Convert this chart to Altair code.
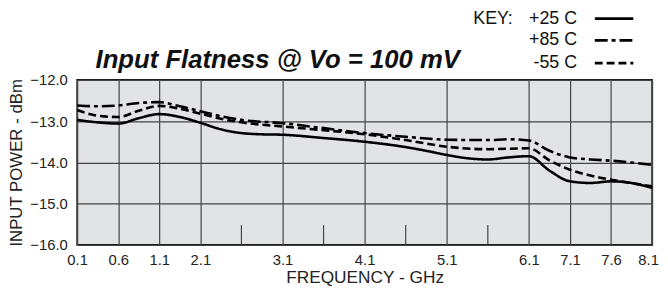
import altair as alt
import pandas as pd

# x positions are grid-column indices (0..14); tick labels map to frequency
tick_pos = [0, 1, 2, 3, 5, 7, 9, 11, 12, 13, 14]
tick_labels = ["0.1", "0.6", "1.1", "2.1", "3.1", "4.1", "5.1", "6.1", "7.1", "7.6", "8.1"]
minor_pos = [4, 6, 8, 10]

x_p25 = [0, 0.5, 1, 1.5, 2, 2.5, 3, 3.5, 4, 4.5, 5, 6, 7, 8, 8.5, 9, 9.5, 10, 10.5, 11, 11.5, 12, 12.5, 13, 13.5, 14]
y_p25 = [-12.97, -13.03, -13.06, -12.93, -12.83, -12.9, -13.04, -13.2, -13.29, -13.32, -13.33, -13.41, -13.5, -13.63, -13.72, -13.82, -13.9, -13.93, -13.88, -13.85, -14.2, -14.46, -14.5, -14.46, -14.5, -14.62]

x_p85 = [0, 0.5, 1, 1.5, 2, 2.5, 3, 3.5, 4, 5, 6, 7, 8, 9, 10, 10.5, 11, 11.5, 12, 12.5, 13, 14]
y_p85 = [-12.62, -12.64, -12.62, -12.56, -12.54, -12.64, -12.76, -12.88, -12.97, -13.05, -13.17, -13.29, -13.38, -13.45, -13.46, -13.44, -13.47, -13.72, -13.88, -13.93, -13.96, -14.06]

x_m55 = [0, 0.5, 1, 1.5, 2, 2.5, 3, 3.5, 4, 5, 6, 7, 8, 9, 10, 11, 11.5, 12, 12.5, 13, 14]
y_m55 = [-12.73, -12.87, -12.9, -12.75, -12.63, -12.7, -12.82, -12.94, -13.03, -13.13, -13.22, -13.32, -13.46, -13.62, -13.68, -13.66, -13.95, -14.18, -14.32, -14.42, -14.58]

series_names = ["+25 C", "+85 C", "-55 C"]
key_prefix = "KEY:"
dashes = [[1, 0], [13, 4, 4, 4], [8, 4]]

rows = []
for name, xs, ys in [("+25 C", x_p25, y_p25), ("+85 C", x_p85, y_p85), ("-55 C", x_m55, y_m55)]:
    for xv, yv in zip(xs, ys):
        rows.append({"x": xv, "y": yv, "series": name})
df = pd.DataFrame(rows)

W, H = 582, 167
FONT = "Liberation Sans"

label_expr = "{" + ",".join(f"'{p}':'{l}'" for p, l in zip(tick_pos, tick_labels)) + "}[datum.value]"

xscale = alt.Scale(domain=[0, 14], nice=False, zero=False)
yscale = alt.Scale(domain=[-16, -12], nice=False, zero=False)

lines = alt.Chart(df).mark_line(interpolate="monotone", strokeWidth=2.6, color="black").encode(
    x=alt.X("x:Q", scale=xscale,
            axis=alt.Axis(values=tick_pos, labelExpr=label_expr, title="FREQUENCY - GHz",
                          grid=True, gridColor="#444444", gridWidth=1.2, ticks=False,
                          domain=False, labelPadding=8, labelFontSize=15, labelFont=FONT,
                          labelColor="#222222", titleFont=FONT, titleFontSize=17.5,
                          titleFontWeight="normal", titleColor="#222222",
                          titleY=33, titleBaseline="middle", labelFlush=False,
                          labelOffset=alt.ConditionalAxisNumber(
                              condition={"test": "datum.value == 14", "value": -4}, value=0))),
    y=alt.Y("y:Q", scale=yscale,
            axis=alt.Axis(values=[-16, -15, -14, -13, -12], format=".1f", title="INPUT POWER - dBm",
                          grid=True, gridColor="#444444", gridWidth=1.2, ticks=False,
                          domain=False, labelPadding=10, labelFontSize=15, labelFont=FONT,
                          labelColor="#222222", titleFont=FONT, titleFontSize=17,
                          titleFontWeight="normal", titleColor="#222222",
                          titleX=-61, titleY=H / 2, titleAngle=-90, titleBaseline="middle",
                          titleAlign="center", labelFlush=False)),
    strokeDash=alt.StrokeDash("series:N", scale=alt.Scale(domain=series_names, range=dashes), legend=None),
)

minor = alt.Chart(pd.DataFrame({"x": minor_pos})).mark_rule(color="#444444", strokeWidth=1.2).encode(
    x=alt.X("x:Q", scale=xscale),
    y=alt.value(H - 20),
    y2=alt.value(H),
)

title = alt.Chart(pd.DataFrame({"t": ["Input Flatness @ Vo = 100 mV"]})).mark_text(
    font=FONT, fontSize=26, fontWeight="bold", fontStyle="italic", align="center",
    baseline="alphabetic", color="#111111"
).encode(text="t:N", x=alt.value(203), y=alt.value(-12))

key_df = pd.DataFrame({"label": series_names, "series": series_names, "row": [0, 1, 2]})
key_y = [-62, -40, -17]
key_layers = [
    alt.Chart(pd.DataFrame({"t": [key_prefix]})).mark_text(
        font=FONT, fontSize=18, align="right", baseline="middle", color="#111111"
    ).encode(text="t:N", x=alt.value(441), y=alt.value(key_y[0]))
]
for i in range(3):
    sub = key_df[key_df.row == i]
    key_layers.append(
        alt.Chart(sub).mark_text(font=FONT, fontSize=18, align="right", baseline="middle", color="#111111")
        .encode(text="label:N", x=alt.value(506), y=alt.value(key_y[i]))
    )
    key_layers.append(
        alt.Chart(sub).mark_rule(strokeWidth=2.8, color="black", strokeDash=dashes[i])
        .encode(x=alt.value(524), x2=alt.value(563), y=alt.value(key_y[i]))
    )

chart = alt.layer(minor, lines, title, *key_layers).properties(
    width=W, height=H,
    autosize=alt.AutoSizeParams(type="none"),
    padding={"left": 70, "top": 71, "right": 8, "bottom": 48},
).configure_view(fill="#e2e3e5", stroke="#111111", strokeWidth=1.6)

chart.save("out.html", embed_options={"renderer": "svg", "actions": False})
